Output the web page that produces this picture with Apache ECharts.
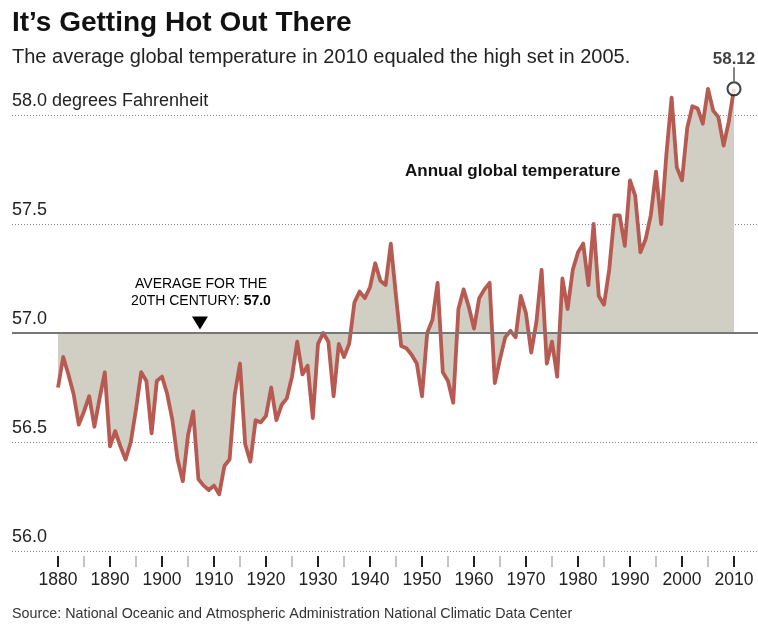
<!DOCTYPE html>
<html>
<head>
<meta charset="utf-8">
<script src="https://cdn.jsdelivr.net/npm/echarts@6/dist/echarts.min.js"></script>
<style>
html,body{margin:0;padding:0;background:#fff}
#c{width:758px;height:625px}
</style>
</head>
<body>
<div id="c"></div>
<script>
// ---- data ----
const firstYear = 1880;
const temps = [
56.75,56.89,56.81,56.72,56.58,56.64,56.71,56.57,56.70,56.82,
56.48,56.55,56.48,56.42,56.50,56.65,56.82,56.78,56.54,56.78,
56.80,56.72,56.60,56.42,56.32,56.53,56.64,56.33,56.30,56.28,
56.30,56.26,56.39,56.42,56.72,56.86,56.49,56.41,56.60,56.59,
56.62,56.75,56.60,56.67,56.70,56.80,56.96,56.81,56.85,56.61,
56.95,57.00,56.96,56.71,56.95,56.89,56.95,57.14,57.19,57.16,
57.21,57.32,57.24,57.22,57.41,57.17,56.94,56.93,56.90,56.86,
56.71,57.00,57.06,57.23,56.82,56.78,56.68,57.11,57.20,57.12,
57.02,57.16,57.20,57.23,56.77,56.88,56.98,57.01,56.98,57.17,
57.09,56.91,57.05,57.29,56.86,56.96,56.80,57.25,57.11,57.29,
57.37,57.41,57.22,57.50,57.17,57.13,57.29,57.54,57.54,57.40,
57.70,57.63,57.37,57.43,57.54,57.74,57.50,57.82,58.08,57.76,
57.70,57.94,58.04,58.03,57.96,58.12,58.02,57.99,57.86,57.97,
58.12
];
const years = temps.map((_, i) => firstYear + i);
const centuryAverage = 57.0;
const yTicks = [56.0, 56.5, 57.0, 57.5, 58.0];
const yTickLabels = ['56.0', '56.5', '57.0', '57.5', '58.0 degrees Fahrenheit'];
const xTickLabels = ['1880','1890','1900','1910','1920','1930','1940','1950','1960','1970','1980','1990','2000','2010'];

// ---- layout ----
const FONT = '"Liberation Sans", Arial, sans-serif';
const plotLeft = 58, plotRight = 734, fullLeft = 12, fullRight = 758, W = 758;
const pxPerYear = (plotRight - plotLeft) / (years[years.length - 1] - years[0]);
const xMinFull = years[0] - (plotLeft - fullLeft) / pxPerYear;
const xMaxFull = years[years.length - 1] + (fullRight - plotRight) / pxPerYear;
const gridTop = 115, gridBottom = 74;

const lineData = years.map((y, i) => [y, temps[i]]);
const last = lineData[lineData.length - 1];

const chart = echarts.init(document.getElementById('c'), null, {renderer: 'canvas'});
chart.setOption({
  animation: false,
  backgroundColor: '#fff',
  textStyle: {fontFamily: FONT},
  title: [
    {text: 'It\u2019s Getting Hot Out There', left: 12, top: 9, padding: 0,
     textStyle: {fontFamily: FONT, fontSize: 28, fontWeight: 'bold', color: '#111', lineHeight: 28}},
    {text: 'The average global temperature in 2010 equaled the high set in 2005.', left: 12, top: 47, padding: 0,
     textStyle: {fontFamily: FONT, fontSize: 20, fontWeight: 'normal', color: '#222', lineHeight: 20}},
    {text: 'Annual global temperature', left: 405, top: 163, padding: 0,
     textStyle: {fontFamily: FONT, fontSize: 17, fontWeight: 'bold', color: '#111', lineHeight: 17}},
    {text: 'Source: National Oceanic and Atmospheric Administration National Climatic Data Center', left: 12, top: 607, padding: 0,
     textStyle: {fontFamily: FONT, fontSize: 14.3, fontWeight: 'normal', color: '#333', lineHeight: 15}}
  ],
  grid: [
    {left: fullLeft, right: W - fullRight, top: gridTop, bottom: gridBottom},
    {left: plotLeft, right: W - plotRight, top: gridTop, bottom: gridBottom}
  ],
  xAxis: [
    {type: 'value', gridIndex: 0, min: xMinFull, max: xMaxFull, show: false},
    {type: 'value', gridIndex: 1, min: years[0], max: years[years.length - 1], interval: 10,
     offset: 5,
     axisLine: {show: false},
     axisTick: {show: true, length: 11, lineStyle: {color: '#222', width: 2}},
     minorTick: {show: true, splitNumber: 2, length: 11, lineStyle: {color: '#c4c4c4', width: 2}},
     splitLine: {show: false},
     axisLabel: {margin: 15, fontSize: 17.5, color: '#222', fontFamily: FONT,
       formatter: v => xTickLabels[Math.round((v - years[0]) / 10)] || ''}}
  ],
  yAxis: [
    {type: 'value', gridIndex: 0, min: yTicks[0], max: yTicks[yTicks.length - 1], interval: 0.5,
     axisLine: {show: false}, axisTick: {show: false},
     splitLine: {show: true, lineStyle: {color: '#888', width: 1, type: [1, 2]}},
     axisLabel: {inside: true, margin: 0, fontSize: 18, color: '#222', fontFamily: FONT,
       verticalAlign: 'bottom', padding: [0, 0, 5, 0],
       formatter: v => { const i = yTicks.findIndex(t => Math.abs(t - v) < 1e-6); return i >= 0 ? yTickLabels[i] : ''; }}},
    {type: 'value', gridIndex: 1, min: yTicks[0], max: yTicks[yTicks.length - 1], show: false}
  ],
  series: [
    {
      type: 'line', xAxisIndex: 0, yAxisIndex: 0, data: [], z: 1, silent: true,
      markLine: {silent: true, symbol: 'none', label: {show: false},
        lineStyle: {type: 'solid', color: '#777', width: 2},
        data: [{yAxis: centuryAverage}]}
    },
    {
      name: 'Annual global temperature', type: 'line', xAxisIndex: 0, yAxisIndex: 0,
      data: lineData, showSymbol: false, symbol: 'none', clip: false, z: 3,
      lineStyle: {color: '#b75a52', width: 3.8, join: 'round'},
      areaStyle: {color: '#d1cec3', opacity: 1, origin: centuryAverage},
      markPoint: {
        silent: true,
        data: [{coord: [1907.3, centuryAverage], symbol: 'triangle', symbolRotate: 180,
                symbolSize: [16, 13], symbolOffset: [0, -10], itemStyle: {color: '#000'},
                label: {show: false}}]
      }
    },
    {
      type: 'scatter', xAxisIndex: 0, yAxisIndex: 0, data: [last], z: 5,
      symbol: 'circle', symbolSize: 13, clip: false,
      itemStyle: {color: '#fff', borderColor: '#111', borderWidth: 2},
      label: {show: true, position: 'top', distance: 0,
        formatter: p => '{v|' + p.value[1].toFixed(2) + '}\n{l|}',
        rich: {
          v: {fontFamily: FONT, fontSize: 17, fontWeight: 'bold', color: '#111', lineHeight: 16, align: 'center'},
          l: {width: 1.5, height: 14, backgroundColor: '#333', align: 'center'}
        }}
    }
  ],
  graphic: [
    {type: 'text', x: 201, y: 276, silent: true,
     style: {text: '{n|AVERAGE FOR THE}\n{n|20TH CENTURY: }{b|57.0}', align: 'center', verticalAlign: 'top',
       rich: {
         n: {fontFamily: FONT, fontSize: 14, color: '#222', lineHeight: 17},
         b: {fontFamily: FONT, fontSize: 14, fontWeight: 'bold', color: '#111', lineHeight: 17}
       }}}
  ]
});
</script>
</body>
</html>
